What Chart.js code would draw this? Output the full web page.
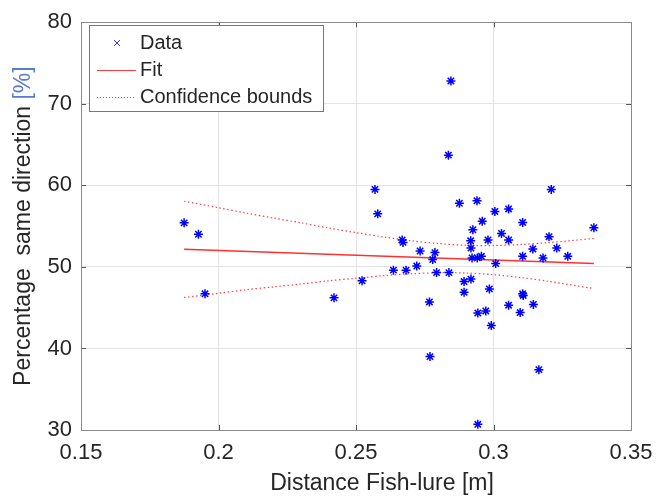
<!DOCTYPE html>
<html><head><meta charset="utf-8">
<script src="https://cdn.jsdelivr.net/npm/chart.js@4/dist/chart.umd.min.js"></script>
<style>html,body{margin:0;padding:0;background:#fff}#wrap{width:667px;height:498px}</style>
</head><body><div id="wrap"><canvas id="c" width="667" height="498"></canvas></div>
<script>
const distance = [0.1875,0.1927,0.1951,0.2420,0.2522,0.2569,0.2579,0.2636,0.2668,0.2671,0.2682,0.2721,0.2733,0.2767,0.2769,0.2779,0.2787,0.2793,0.2836,0.2838,0.2845,0.2876,0.2893,0.2893,0.2917,0.2918,0.2918,0.2922,0.2925,0.2940,0.2941,0.2943,0.2943,0.2956,0.2959,0.2972,0.2980,0.2985,0.2992,0.3005,0.3008,0.3029,0.3055,0.3055,0.3055,0.3097,0.3106,0.3106,0.3106,0.3108,0.3143,0.3145,0.3165,0.3180,0.3202,0.3210,0.3230,0.3270,0.3365];
const percentSame = [55.4,54.0,46.7,46.2,48.3,59.5,56.5,49.6,53.3,53.0,49.6,50.1,51.95,45.7,39.0,50.9,51.75,49.3,63.7,49.3,72.8,57.8,48.2,46.9,53.2,52.3,48.5,51.1,54.55,58.1,51.1,44.35,30.7,51.3,55.6,44.6,53.3,47.3,42.8,56.8,50.4,54.1,57.1,53.3,45.3,44.4,55.45,51.3,46.7,46.5,52.2,45.4,37.4,51.1,53.7,59.5,52.3,51.3,54.8];
const fitX = [0.1875, 0.3365];
const fitY = [52.15, 50.4];
const boundX = [0.1875,0.20,0.21,0.22,0.23,0.24,0.25,0.26,0.27,0.28,0.29,0.30,0.31,0.32,0.3365];
const upperY = [58.05,57.25,56.6,55.99,55.4,54.77,54.2,53.67,53.2,52.86,52.65,52.62,52.75,52.97,53.48];
const lowerY = [46.25,46.76,47.2,47.55,47.9,48.29,48.6,48.93,49.15,49.28,49.25,49.04,48.69,48.23,47.34];
const xTicks = [0.15,0.2,0.25,0.3,0.35];
const yTicks = [30,40,50,60,70,80];
const legendLabels = ['Data','Fit','Confidence bounds'];
const xTitle = 'Distance Fish-lure [m]';
const yTitleMain = 'Percentage  same direction ';
const yTitleUnit = '[%]';

const FONT = "'Liberation Sans', Arial, Helvetica, sans-serif";
const TXT = '#262626';
const AXIS = '#8a8a8a';

const toPts = (xs, ys) => xs.map((x, i) => ({x, y: ys[i]}));

const framePlugin = {
  id: 'frame',
  afterDraw(chart) {
    const {ctx, chartArea: a, scales} = chart;
    ctx.save();
    ctx.strokeStyle = '#555';
    ctx.lineWidth = 1;
    xTicks.forEach(v => {
      const px = Math.round(scales.x.getPixelForValue(v)) + 0.5;
      ctx.beginPath(); ctx.moveTo(px, a.bottom); ctx.lineTo(px, a.bottom - 5); ctx.stroke();
      ctx.beginPath(); ctx.moveTo(px, a.top); ctx.lineTo(px, a.top + 5); ctx.stroke();
    });
    yTicks.forEach(v => {
      const py = Math.round(scales.y.getPixelForValue(v)) + 0.5;
      ctx.beginPath(); ctx.moveTo(a.left, py); ctx.lineTo(a.left + 5, py); ctx.stroke();
      ctx.beginPath(); ctx.moveTo(a.right, py); ctx.lineTo(a.right - 5, py); ctx.stroke();
    });
    ctx.strokeStyle = AXIS;
    ctx.strokeRect(Math.round(a.left) + 0.5, Math.round(a.top) + 0.5, Math.round(a.right - a.left), Math.round(a.bottom - a.top));
    // x title
    ctx.fillStyle = TXT;
    ctx.font = '23px ' + FONT;
    ctx.textAlign = 'center';
    ctx.textBaseline = 'middle';
    ctx.fillText(xTitle, 382, 484);
    // y title two-colour
    ctx.save();
    ctx.translate(24, (a.top + a.bottom) / 2);
    ctx.rotate(-Math.PI / 2);
    ctx.textAlign = 'left';
    const w1 = ctx.measureText(yTitleMain).width;
    const w2 = ctx.measureText(yTitleUnit).width;
    const start = -(w1 + w2) / 2;
    ctx.fillStyle = TXT;
    ctx.fillText(yTitleMain, start, 0);
    ctx.fillStyle = '#5a7ccc';
    ctx.fillText(yTitleUnit, start + w1, 0);
    ctx.restore();
    // legend
    const lx = 89.5, ly = 25.5, lw = 234, lh = 86;
    ctx.fillStyle = '#fff';
    ctx.fillRect(lx, ly, lw, lh);
    ctx.strokeStyle = '#777';
    ctx.strokeRect(lx, ly, lw, lh);
    const rows = [43, 70, 97];
    ctx.font = '20px ' + FONT;
    ctx.fillStyle = TXT;
    ctx.textAlign = 'left';
    ctx.textBaseline = 'middle';
    legendLabels.forEach((t, i) => ctx.fillText(t, 140, rows[i]));
    ctx.strokeStyle = '#3030ff';
    ctx.lineWidth = 1;
    ctx.beginPath();
    ctx.moveTo(114, rows[0] - 3); ctx.lineTo(120, rows[0] + 3);
    ctx.moveTo(120, rows[0] - 3); ctx.lineTo(114, rows[0] + 3);
    ctx.stroke();
    ctx.strokeStyle = '#ff4040';
    ctx.beginPath(); ctx.moveTo(97, rows[1] + 0.5); ctx.lineTo(136, rows[1] + 0.5); ctx.stroke();
    ctx.setLineDash([1, 2]);
    ctx.beginPath(); ctx.moveTo(97, rows[2] + 0.5); ctx.lineTo(136, rows[2] + 0.5); ctx.stroke();
    ctx.restore();
  }
};

new Chart(document.getElementById('c'), {
  type: 'scatter',
  data: {
    datasets: [
      {
        label: legendLabels[0],
        data: toPts(distance, percentSame),
        pointStyle: 'star',
        pointRadius: 4.5,
        borderColor: '#0000ff',
        backgroundColor: '#0000ff',
        borderWidth: 1.5,
        order: 0
      },
      {
        label: legendLabels[1],
        data: toPts(fitX, fitY),
        showLine: true,
        borderColor: '#ff3030',
        borderWidth: 1.5,
        pointRadius: 0,
        order: 1
      },
      {
        label: legendLabels[2],
        data: toPts(boundX, upperY),
        showLine: true,
        borderColor: '#ff4040',
        borderWidth: 1.2,
        borderDash: [1.5, 2.5],
        tension: 0.3,
        pointRadius: 0,
        order: 2
      },
      {
        label: 'lower',
        data: toPts(boundX, lowerY),
        showLine: true,
        borderColor: '#ff4040',
        borderWidth: 1.2,
        borderDash: [1.5, 2.5],
        tension: 0.3,
        pointRadius: 0,
        order: 2
      }
    ]
  },
  options: {
    responsive: false,
    animation: false,
    events: [],
    layout: {padding: {left: 0, right: 36, top: 20, bottom: 0}},
    plugins: {legend: {display: false}, tooltip: {enabled: false}},
    scales: {
      x: {
        type: 'linear', min: 0.15, max: 0.35,
        afterBuildTicks: s => { s.ticks = xTicks.map(v => ({value: v})); },
        afterFit: s => { s.height = 68; },
        ticks: {font: {family: FONT, size: 22}, color: TXT, padding: 10, maxRotation: 0, autoSkip: false,
                callback: v => String(v)},
        grid: {color: '#e3e3e3', drawTicks: false},
        border: {display: false}
      },
      y: {
        type: 'linear', min: 30, max: 80,
        afterBuildTicks: s => { s.ticks = yTicks.map(v => ({value: v})); },
        afterFit: s => { s.width = 81; },
        ticks: {font: {family: FONT, size: 22}, color: TXT, padding: 9, autoSkip: false,
                callback: v => String(v)},
        grid: {color: '#e3e3e3', drawTicks: false},
        border: {display: false}
      }
    }
  },
  plugins: [framePlugin]
});
</script>
</body></html>
